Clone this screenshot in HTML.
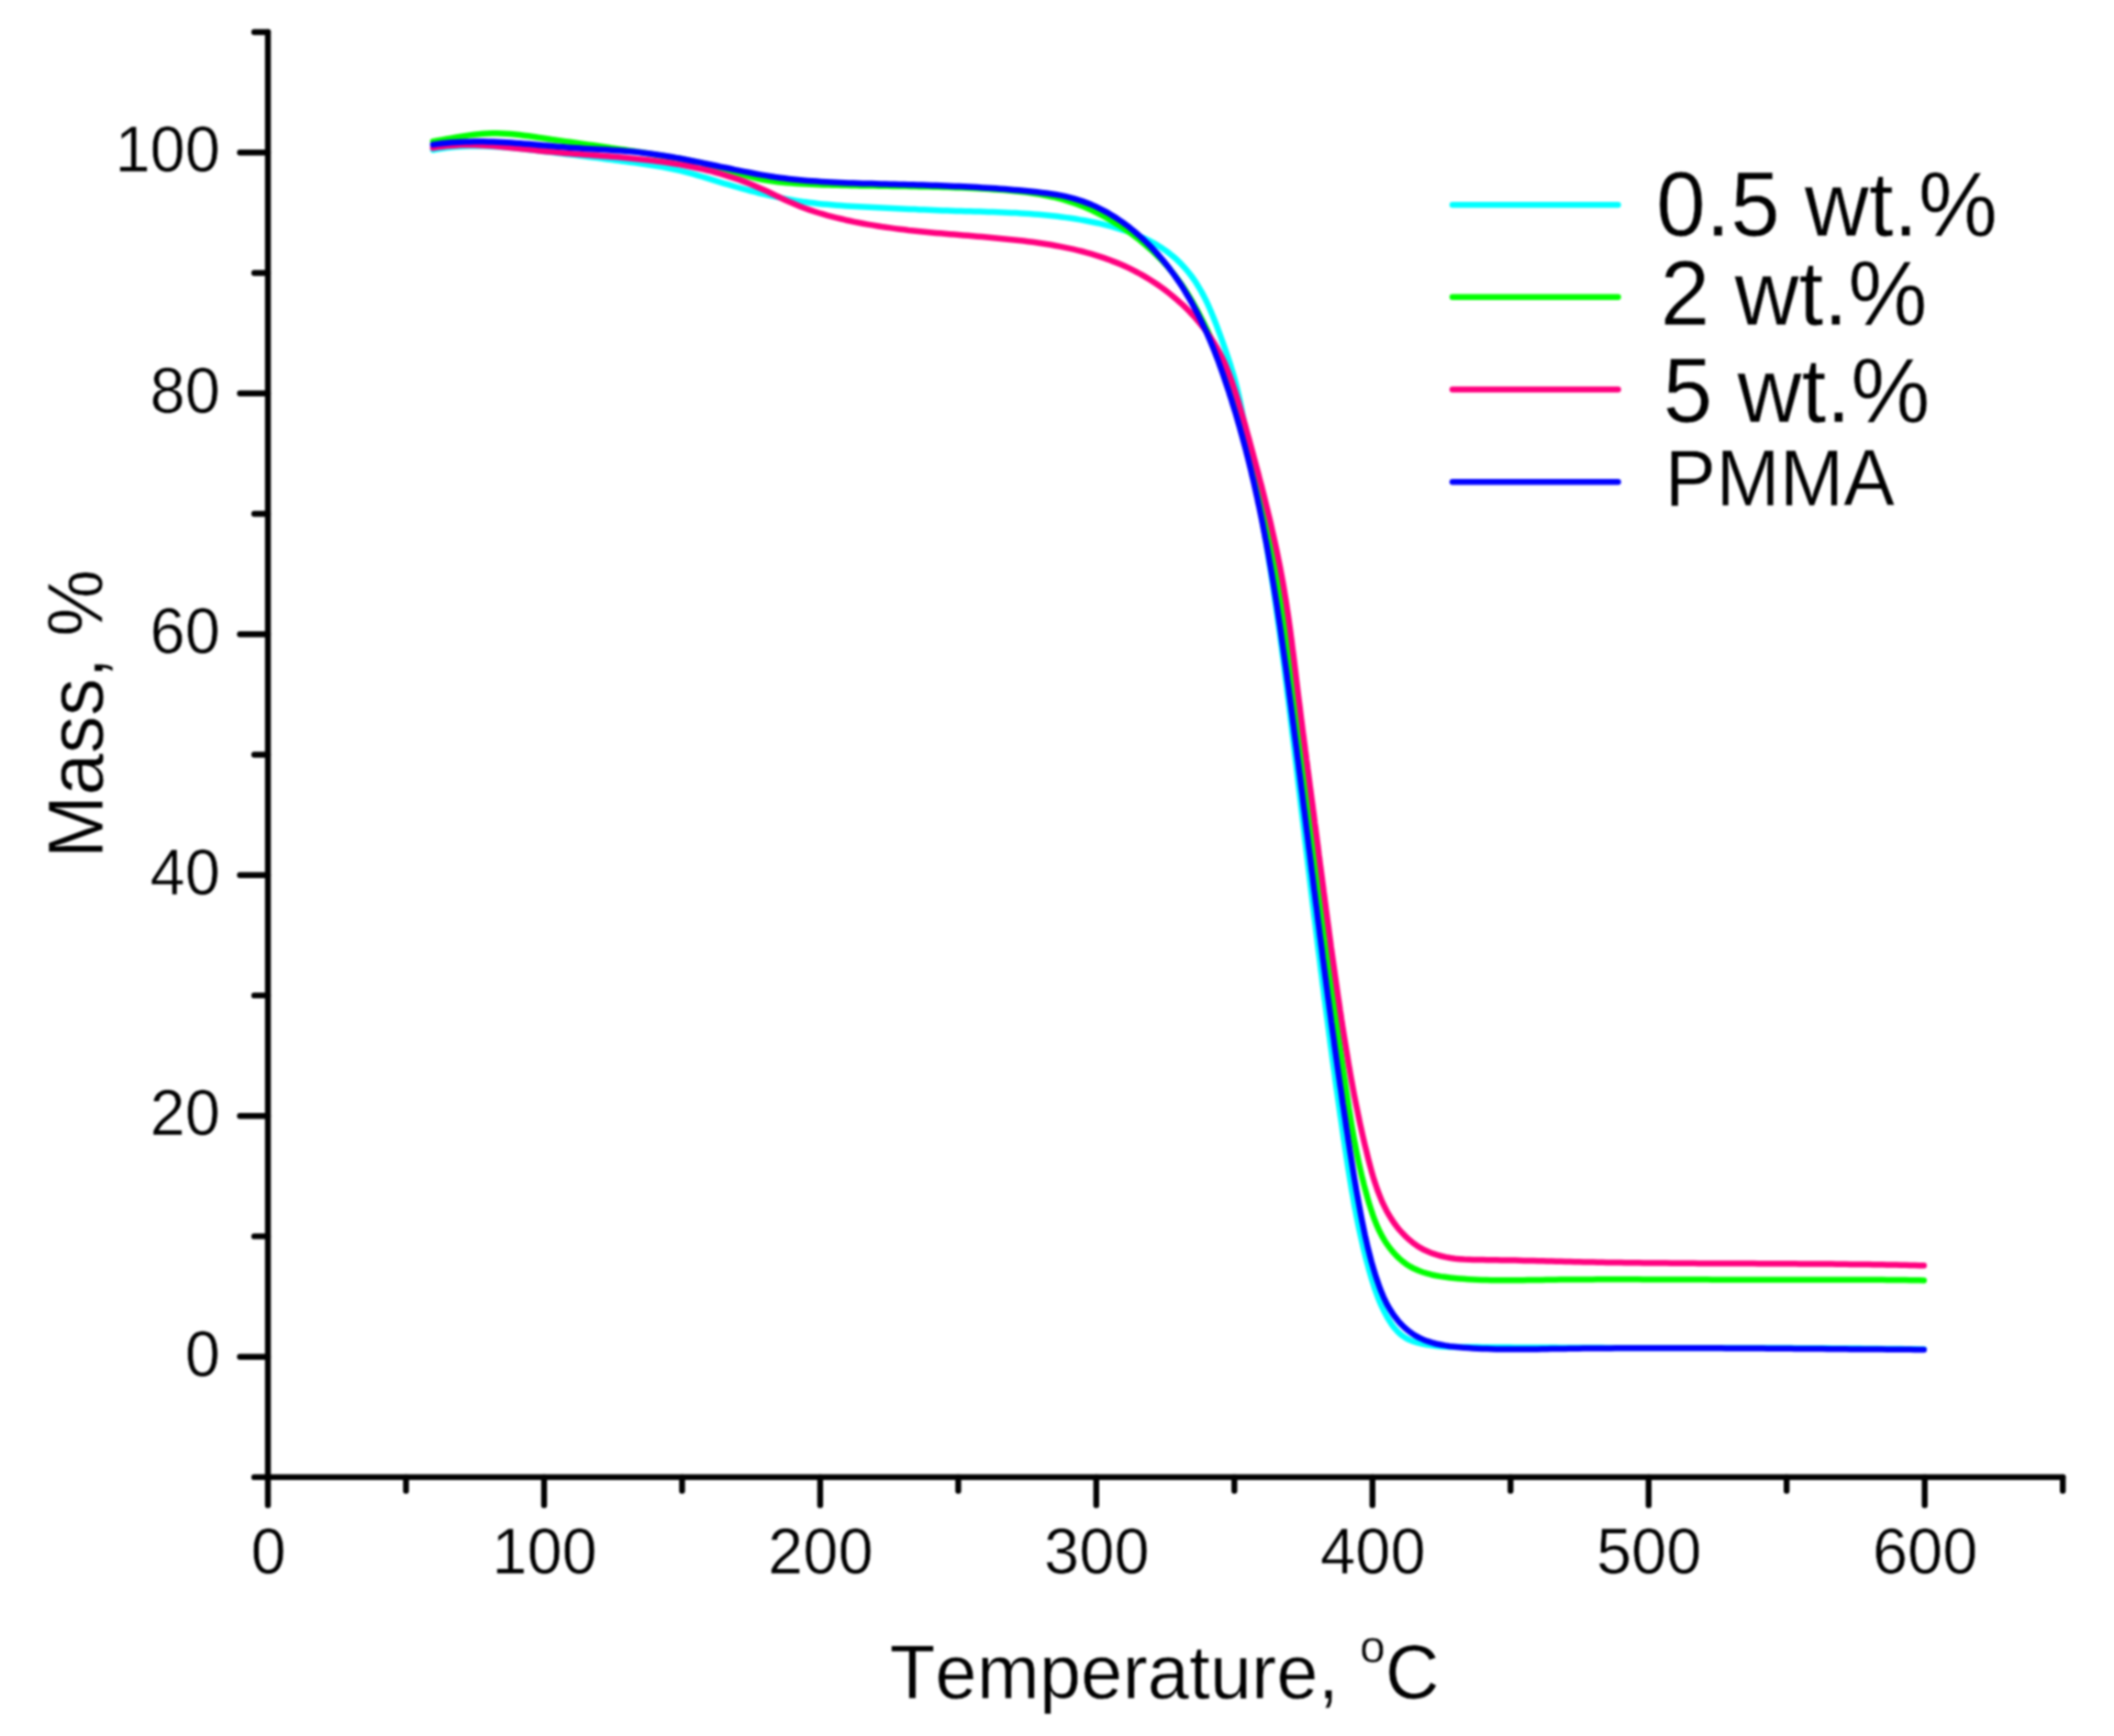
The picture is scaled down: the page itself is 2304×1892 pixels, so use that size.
<!DOCTYPE html>
<html lang="en"><head><meta charset="utf-8"><title>TGA curves</title>
<style>html,body{margin:0;padding:0;background:#fff}body{width:2304px;height:1892px;overflow:hidden}</style></head>
<body>
<svg width="2304" height="1892" viewBox="0 0 2304 1892" style="display:block;filter:blur(1.3px);font-kerning:none" font-family='"Liberation Sans", sans-serif' fill="#000">
<style>text{stroke:#fff;stroke-width:.6px}</style>
<rect width="2304" height="1892" fill="#fff"/>
<g fill="none" stroke-width="6.5" stroke-linecap="round" stroke-linejoin="round">
<path id="c05" stroke="#00ffff" d="M471.9,163.5l5,-.9l5,-.8l5,-.7l4.9,-.6l5,-.4l5,-.4l5,-.2l5,-.2l5,-.1l5,0l5,.1l5,.2l5,.2l5,.3l5,.3l5,.4l5.1,.4l5,.5l5,.5l5,.5l5,.6l4.9,.6l5,.5l5,.6l5,.6l5,.6l5,.6l5,.6l5,.6l4.9,.6l5,.6l5,.6l5,.6l4.9,.6l5,.6l5,.6l4.9,.7l5,.6l5,.6l5,.7l4.9,.7l5,.6l5,.7l4.9,.7l5,.7l5,.7l5,.8l4.9,.7l5,.8l5,.8l4.9,.9l4.9,1l4.9,1l4.9,1.1l4.9,1.2l4.8,1.3l4.8,1.3l4.8,1.4l4.8,1.4l4.8,1.4l4.8,1.5l4.8,1.5l4.8,1.4l4.8,1.5l4.8,1.4l4.9,1.4l4.8,1.4l4.9,1.4l4.8,1.3l4.9,1.3l4.8,1.2l4.9,1.3l4.9,1.2l4.9,1.1l4.9,1.1l4.9,1l4.9,1l5,1l4.9,.9l4.9,.8l5,.8l4.9,.7l5,.6l5,.6l5,.6l4.9,.5l5,.4l5,.5l5,.4l5,.3l5,.4l5,.3l5,.3l5,.2l5,.3l5.1,.3l5,.2l5,.3l5,.2l5,.2l5.1,.3l5,.2l5,.3l5,.2l5.1,.2l5,.2l5,.3l5,.2l5,.2l5.1,.2l5,.2l5,.2l5,.1l5,.2l5.1,.2l5,.1l5,.2l5,.1l5,.1l5,.2l5,.1l5,.2l5,.2l5,.2l5,.1l5,.3l5,.2l5,.2l5,.3l5,.3l5,.4l4.9,.3l5,.4l5,.4l5,.5l5,.5l4.9,.6l5,.6l5,.7l4.9,.7l5,.7l4.9,.9l5,.8l5,1l4.9,1l5,1l4.9,1.2l4.9,1.2l5,1.3l4.8,1.4l4.9,1.5l4.8,1.5l4.8,1.7l4.7,1.8l4.7,1.9l4.6,2l4.6,2.1l4.4,2.2l4.4,2.4l4.3,2.6l4.1,2.6l4.1,2.8l4,3l3.8,3.1l3.8,3.3l3.6,3.5l3.4,3.6l3.3,3.8l3.2,3.8l3.1,4l2.9,4.1l2.7,4.2l2.6,4.3l2.5,4.3l2.4,4.5l2.2,4.4l2.2,4.6l2,4.6l2,4.6l1.9,4.7l1.9,4.7l1.8,4.7l1.7,4.7l1.8,4.8l1.7,4.7l1.7,4.7l1.7,4.8l1.6,4.7l1.6,4.7l1.6,4.8l1.6,4.7l1.4,4.8l1.5,4.8l1.4,4.8l1.3,4.8l1.2,4.8l1.2,4.9l1.1,4.8l1.1,4.9l1,5l1,4.9l.9,4.9l1,4.9l.9,5l1,4.9l.9,4.9l1,5l.9,4.9l.9,4.9l1,5l.9,4.9l.9,4.9l1,5l.9,4.9l.9,4.9l.9,5l.9,4.9l.9,4.9l.9,5l.9,4.9l.9,5l.8,4.9l.9,4.9l.9,5l.8,4.9l.9,5l.8,4.9l.9,5l.8,4.9l.9,4.9l.8,5l.8,4.9l.8,5l.8,4.9l.8,5l.8,4.9l.8,5l.7,5l.8,4.9l.8,5l.7,4.9l.7,5l.8,5l.7,4.9l.7,5l.7,4.9l.7,5l.7,5l.7,4.9l.7,5l.7,5l.6,5l.7,4.9l.7,5l.6,5l.7,4.9l.6,5l.7,5l.6,5l.6,5l.7,4.9l.6,5l.6,5l.6,5l.7,4.9l.6,5l.6,5l.6,5l.6,5l.6,4.9l.6,5l.6,5l.6,5l.6,5l.6,5l.6,4.9l.6,5l.6,5l.6,5l.6,5l.6,5l.5,4.9l.6,5l.6,5l.6,5l.6,5l.6,5l.6,4.9l.6,5l.6,5l.6,5l.6,5l.6,5l.6,4.9l.5,5l.6,5l.6,5l.6,5l.6,5l.6,4.9l.6,5l.6,5l.6,5l.6,5l.6,4.9l.6,5l.6,5l.6,5l.6,5l.6,5l.6,4.9l.6,5l.7,5l.6,5l.6,5l.6,4.9l.6,5l.6,5l.6,5l.6,5l.7,4.9l.6,5l.6,5l.6,5l.7,4.9l.6,5l.6,5l.7,5l.6,5l.6,4.9l.7,5l.6,5l.7,5l.6,4.9l.7,5l.6,5l.7,5l.6,4.9l.7,5l.6,5l.7,4.9l.7,5l.6,5l.7,5l.7,4.9l.7,5l.7,5l.6,4.9l.7,5l.7,5l.7,4.9l.7,5l.7,5l.7,4.9l.7,5l.7,5l.8,4.9l.7,5l.7,5l.7,4.9l.7,5l.8,4.9l.7,5l.8,5l.7,4.9l.8,5l.7,4.9l.8,5l.8,4.9l.8,5l.8,4.9l.8,5l.9,4.9l.9,4.9l.8,5l.9,4.9l1,4.9l.9,5l1,4.9l1,4.9l1,4.9l1.1,4.9l1.1,4.9l1.1,4.9l1.1,4.9l1.2,4.9l1.2,4.9l1.3,4.8l1.3,4.9l1.3,4.8l1.4,4.9l1.4,4.8l1.5,4.8l1.5,4.8l1.7,4.8l1.7,4.7l1.8,4.7l2,4.6l2.1,4.6l2.3,4.5l2.4,4.5l2.6,4.3l2.7,4.2l3.1,3.9l3.3,3.7l3.6,3.3l4,2.8l4.3,2.4l4.7,1.9l4.8,1.4l5,1.2l5,1l5,.7l5,.6l5,.5l5,.3l5,.2l5,.1l5.1,.1l5,0l5,0l5,0l5.1,0l5,.1l5,0l5,0l5,0l5.1,.1l5,0l5,0l5,.1l5,0l5,0l5.1,.1l5,0l5,0l5,.1l5,0l5,0l5,0l5.1,.1l5,0l5,0l5,0l5,.1l5,0l5,0l5.1,0l5,0l5,0l5,.1l5,0l5,0l5,0l5.1,0l5,0l5,0l5,0l5,0l5,0l5.1,0l5,0l5,0l5,.1l5,0l5,0l5.1,0l5,0l5,0l5,0l5,0l5.1,0l5,0l5,0l5,0l5,0l5.1,0l5,0l5,0l5,0l5,0l5,0l5.1,0l5,0l5,.1l5,0l5,0l5.1,0l5,0l5,0l5,0l5,.1l5,0l5.1,0l5,0l5,0l5,.1l5,0l5.1,0l5,.1l5,0l5,0l5,.1l5,0l5.1,.1l5,0l5,.1l5,0l5,.1l5,0l5.1,.1l5,0l5,.1l5,0l5,.1l5,.1l5.1,.1l5,0l5,.1l5,.1"/>
<path id="c2" stroke="#00ff00" d="M471.9,154.1l4.9,-.8l4.9,-.9l4.9,-.9l5,-.9l4.9,-.8l5,-.9l5,-.8l5,-.7l5.1,-.6l5,-.6l5,-.4l5,-.3l5.1,-.2l5,0l5,.1l4.9,.3l5,.4l5,.4l5,.6l4.9,.6l5,.6l5,.7l4.9,.8l5,.7l5,.7l4.9,.8l5,.7l5,.7l4.9,.7l5,.7l5,.7l4.9,.7l5,.7l5,.7l5,.7l4.9,.7l5,.7l5,.7l4.9,.8l5,.7l5,.7l4.9,.7l5,.8l4.9,.7l5,.8l5,.7l4.9,.8l5,.8l4.9,.8l5,.8l4.9,.8l5,.8l4.9,.9l5,.8l4.9,.9l4.9,.9l5,1l4.9,1l4.9,1.1l4.9,1.1l4.8,1.2l4.9,1.2l4.8,1.4l4.8,1.4l4.8,1.5l4.8,1.5l4.8,1.4l4.8,1.5l4.8,1.4l4.9,1.3l4.8,1.3l4.9,1.1l4.9,1l4.9,.8l5,.8l4.9,.6l5,.6l5,.4l5,.4l5.1,.4l5,.3l5,.2l5,.3l5.1,.2l5,.2l5,.2l5.1,.1l5,.2l5,.1l5,.2l5,.1l5.1,.1l5,.1l5,.1l5,.1l5,0l5,.1l5,.1l5,.1l5,0l5.1,.1l5,.1l5,0l5,.1l5,.1l5,.1l5,.1l5,.1l5,.1l5,.1l5.1,.1l5,.1l5,.2l5,.1l5,.2l5,.2l5,.2l5.1,.2l5,.2l5,.3l5,.2l5,.3l5.1,.4l5,.3l5,.4l5.1,.4l5,.4l5,.5l5,.6l5,.6l5,.6l4.9,.8l5,.8l4.9,.9l4.9,1l4.9,1l4.8,1.2l4.9,1.3l4.8,1.4l4.7,1.5l4.7,1.6l4.7,1.7l4.7,1.9l4.6,2l4.6,2l4.5,2.2l4.5,2.3l4.4,2.4l4.4,2.5l4.4,2.5l4.3,2.7l4.3,2.7l4.2,2.8l4.1,2.8l4.1,3l4,3l4,3.1l3.9,3.2l3.9,3.2l3.7,3.3l3.8,3.4l3.6,3.5l3.5,3.5l3.5,3.6l3.4,3.7l3.3,3.8l3.2,3.8l3.1,3.9l3,4l3,4.1l2.8,4.1l2.8,4.2l2.6,4.2l2.6,4.4l2.6,4.3l2.4,4.4l2.5,4.4l2.3,4.4l2.3,4.5l2.3,4.5l2.2,4.5l2.2,4.5l2.1,4.6l2,4.5l2.1,4.6l2,4.6l1.9,4.6l1.9,4.7l1.9,4.6l1.8,4.7l1.8,4.7l1.7,4.7l1.8,4.7l1.6,4.7l1.7,4.8l1.6,4.7l1.6,4.8l1.6,4.8l1.5,4.8l1.5,4.7l1.5,4.8l1.5,4.9l1.4,4.8l1.4,4.8l1.4,4.8l1.4,4.8l1.3,4.9l1.4,4.8l1.3,4.9l1.3,4.8l1.2,4.9l1.3,4.8l1.2,4.9l1.2,4.9l1.2,4.8l1.2,4.9l1.2,4.9l1.1,4.9l1.1,4.9l1.1,4.9l1.1,4.9l1.1,4.9l1.1,4.9l1,4.9l1.1,4.9l1,4.9l1,4.9l1,4.9l1,4.9l.9,4.9l1,5l.9,4.9l.9,4.9l1,4.9l.9,5l.8,4.9l.9,4.9l.9,5l.8,4.9l.9,5l.8,4.9l.8,5l.8,4.9l.8,5l.8,4.9l.8,5l.8,4.9l.7,5l.8,4.9l.7,5l.8,5l.7,4.9l.7,5l.7,5l.7,4.9l.7,5l.7,5l.7,4.9l.7,5l.6,5l.7,5l.7,4.9l.6,5l.7,5l.6,5l.7,5l.6,4.9l.6,5l.6,5l.7,5l.6,5l.6,5l.6,4.9l.6,5l.6,5l.6,5l.6,5l.6,5l.6,5l.6,5l.6,4.9l.6,5l.6,5l.6,5l.6,5l.6,5l.6,5l.6,4.9l.6,5l.6,5l.6,5l.6,5l.6,5l.6,4.9l.6,5l.6,5l.6,5l.7,5l.6,5l.6,4.9l.6,5l.7,5l.6,5l.6,4.9l.7,5l.6,5l.7,5l.6,4.9l.7,5l.6,5l.7,4.9l.7,5l.6,5l.7,4.9l.7,5l.7,5l.6,5l.7,4.9l.7,5l.7,5l.7,4.9l.7,5l.6,5l.7,4.9l.7,5l.7,4.9l.7,5l.7,5l.7,4.9l.7,5l.7,5l.8,4.9l.7,5l.7,5l.7,4.9l.7,5l.7,5l.7,4.9l.8,5l.7,5l.7,5l.7,4.9l.7,5l.8,5l.7,4.9l.7,5l.7,5l.8,5l.7,4.9l.7,5l.8,5l.7,4.9l.8,5l.7,5l.8,4.9l.8,5l.8,5l.8,4.9l.9,5l.8,4.9l.9,4.9l1,5l.9,4.9l1,4.9l1,4.9l1,4.9l1.1,4.9l1.1,4.9l1.1,4.9l1.2,4.8l1.2,4.9l1.3,4.8l1.3,4.9l1.3,4.8l1.4,4.8l1.5,4.8l1.5,4.7l1.6,4.8l1.7,4.7l1.8,4.6l2,4.6l2.2,4.6l2.3,4.4l2.6,4.4l2.8,4.3l3,4.1l3.2,4l3.5,3.8l3.6,3.5l3.8,3.3l4,3l4.2,2.6l4.4,2.3l4.5,2l4.6,1.7l4.7,1.4l4.8,1.3l4.9,1l5,.9l5,.7l5,.6l5,.5l5,.5l5.1,.4l5,.4l5,.3l5,.2l5.1,.2l5,.1l5,.2l5,0l5,.1l5,0l5.1,0l5,0l5,-.1l5,0l5,-.1l5,-.1l5,0l5.1,-.1l5,-.1l5,-.1l5,0l5,-.1l5,0l5,-.1l5,0l5.1,-.1l5,0l5,0l5,0l5,-.1l5,0l5.1,0l5,0l5,0l5,0l5,0l5.1,0l5,0l5,0l5,.1l5,0l5,0l5.1,0l5,0l5,0l5,.1l5,0l5.1,0l5,0l5,.1l5,0l5,0l5.1,0l5,0l5,.1l5,0l5,0l5.1,0l5,0l5,0l5,.1l5,0l5.1,0l5,0l5,0l5,0l5,0l5.1,0l5,-.1l5,0l5,0l5,0l5,0l5.1,0l5,0l5,0l5,0l5,0l5,0l5.1,0l5,0l5,0l5,0l5,0l5,0l5.1,0l5,0l5,0l5,.1l5,0l5,0l5.1,0l5,.1l5,0l5,.1l5,0l5,.1l5.1,.1l5,0l5,.1l5,.1"/>
<path id="c5" stroke="#ff007f" d="M471.9,161.2l5,-.8l5.1,-.7l5,-.6l5,-.4l5,-.3l5,-.3l5,-.1l5,0l5,.1l5,.1l5,.2l4.9,.3l5,.4l5,.4l5,.4l5,.5l4.9,.5l5,.5l5,.6l5,.5l5,.6l4.9,.5l5,.6l5,.5l5,.5l5,.4l5,.5l5,.4l5,.4l5,.4l5,.4l5,.4l5,.4l5,.3l5,.4l5,.4l5,.4l5,.3l5,.4l5,.4l5,.4l5,.5l5,.4l5,.5l5,.5l5,.5l4.9,.6l5,.6l5,.6l4.9,.6l5,.7l4.9,.8l5,.8l4.9,.8l4.9,.9l5,.9l4.9,1l4.9,1.1l4.9,1.1l4.8,1.1l4.9,1.2l4.8,1.3l4.8,1.4l4.8,1.4l4.8,1.5l4.8,1.5l4.7,1.6l4.7,1.7l4.7,1.8l4.6,1.8l4.6,2l4.6,2l4.6,2l4.5,2.1l4.5,2.2l4.5,2.2l4.6,2.1l4.5,2.2l4.6,2.1l4.6,2l4.6,1.9l4.7,1.9l4.7,1.8l4.7,1.7l4.8,1.6l4.8,1.5l4.9,1.4l4.8,1.4l4.9,1.3l4.9,1.2l4.9,1.2l4.8,1.2l4.9,1l4.9,1.1l4.9,1l5,.9l4.9,.9l4.9,.8l4.9,.8l4.9,.8l5,.7l4.9,.7l5,.7l4.9,.6l5,.6l4.9,.6l5,.5l4.9,.5l5,.5l5,.5l5,.5l4.9,.5l5,.4l5,.4l5,.5l5,.4l5,.4l5,.4l5,.4l5,.4l5,.5l5,.4l5,.4l5.1,.5l5,.4l5,.5l5,.5l5,.5l5.1,.5l5,.6l5,.5l5,.7l5,.6l5,.7l4.9,.7l5,.8l5,.8l4.9,.9l4.9,.9l4.9,1l4.9,1l4.9,1.1l4.9,1.1l4.8,1.2l4.8,1.3l4.8,1.4l4.7,1.4l4.8,1.5l4.7,1.6l4.7,1.6l4.6,1.8l4.6,1.8l4.6,1.9l4.5,2l4.6,2.1l4.4,2.3l4.5,2.3l4.4,2.4l4.3,2.5l4.3,2.6l4.3,2.7l4.2,2.8l4.1,2.9l4.1,3l4,3.1l4,3.2l3.8,3.2l3.8,3.4l3.8,3.4l3.6,3.5l3.6,3.6l3.4,3.6l3.4,3.8l3.3,3.8l3.2,3.9l3.1,3.9l2.9,4l2.9,4.1l2.7,4.1l2.7,4.3l2.5,4.2l2.4,4.4l2.3,4.4l2.2,4.4l2.1,4.6l1.9,4.6l1.8,4.6l1.8,4.7l1.7,4.7l1.6,4.8l1.6,4.8l1.5,4.7l1.5,4.8l1.5,4.8l1.4,4.8l1.4,4.8l1.4,4.9l1.4,4.8l1.4,4.8l1.3,4.9l1.3,4.8l1.4,4.8l1.3,4.9l1.3,4.8l1.3,4.8l1.3,4.9l1.3,4.8l1.3,4.9l1.3,4.8l1.3,4.9l1.2,4.8l1.3,4.9l1.3,4.8l1.2,4.9l1.2,4.8l1.2,4.9l1.2,4.9l1.2,4.8l1.2,4.9l1.2,4.9l1.1,4.8l1.1,4.9l1.1,4.9l1.1,4.9l1.1,4.9l1.1,4.9l1,4.9l1,4.9l1,4.9l1,4.9l1,4.9l.9,4.9l.9,4.9l.9,5l.9,4.9l.8,4.9l.8,5l.8,4.9l.8,5l.7,4.9l.8,5l.7,4.9l.7,5l.7,5l.7,5l.6,4.9l.7,5l.6,5l.6,5l.7,4.9l.6,5l.6,5l.6,5l.6,5l.6,4.9l.6,5l.6,5l.6,5l.6,5l.6,4.9l.7,5l.6,5l.6,4.9l.6,5l.7,5l.6,4.9l.6,5l.7,5l.6,4.9l.7,5l.6,5l.7,4.9l.6,5l.7,4.9l.6,5l.7,4.9l.6,5l.7,5l.6,4.9l.7,5l.6,5l.7,4.9l.7,5l.6,4.9l.7,5l.6,5l.6,5l.7,4.9l.6,5l.7,5l.6,4.9l.7,5l.6,5l.6,5l.7,4.9l.6,5l.7,5l.6,5l.7,4.9l.6,5l.7,5l.6,5l.7,4.9l.6,5l.7,5l.6,5l.7,5l.6,4.9l.7,5l.7,5l.6,4.9l.7,5l.7,5l.6,5l.7,4.9l.7,5l.7,5l.7,4.9l.7,5l.7,4.9l.7,5l.7,5l.7,4.9l.7,5l.7,4.9l.8,5l.7,4.9l.7,5l.8,4.9l.7,5l.8,4.9l.7,5l.8,4.9l.8,4.9l.8,5l.8,4.9l.8,4.9l.8,4.9l.8,5l.8,4.9l.9,4.9l.8,4.9l.9,5l.9,4.9l.9,4.9l.9,4.9l.9,4.9l1,4.9l1,5l1,4.9l1,4.9l1,4.9l1,4.9l1.1,4.9l1.1,4.9l1.1,4.9l1.1,4.9l1.2,4.9l1.2,4.9l1.2,5l1.2,4.9l1.3,4.9l1.3,4.9l1.3,4.8l1.4,4.9l1.5,4.8l1.6,4.8l1.6,4.7l1.8,4.7l1.9,4.7l1.9,4.5l2.2,4.5l2.2,4.4l2.5,4.3l2.6,4.3l2.7,4.1l3,4l3.1,3.9l3.4,3.7l3.5,3.6l3.7,3.4l3.9,3.2l4,2.9l4.3,2.7l4.3,2.4l4.5,2l4.7,1.9l4.7,1.5l4.8,1.3l4.9,1.1l4.9,.9l4.9,.7l5,.5l5,.4l5.1,.2l5,.2l5.1,.1l5,0l5.1,.1l5,0l5.1,.1l5,.1l5.1,.1l5,.1l5,0l5,.2l5,.1l5.1,.1l5,.1l5,.1l5,.1l5,.1l5,.2l4.9,.1l5,.1l5,.1l5,.1l5,.2l5,.1l5,.1l5,.1l5,.1l5,.1l5,.1l5,.1l5,0l5,.1l5,.1l5,.1l5,0l5,.1l5,0l5,.1l5,0l5,.1l5,0l5,.1l5,0l5,.1l5,0l5,0l5,.1l5,0l5.1,0l5,.1l5,0l5,0l5,0l5,.1l5,0l5,0l5.1,0l5,0l5,.1l5,0l5,0l5,0l5,.1l5.1,0l5,0l5,0l5,0l5,.1l5,0l5,0l5.1,0l5,.1l5,0l5,0l5,.1l5,0l5,.1l5.1,0l5,0l5,.1l5,0l5,.1l5,.1l5,0l5,.1l5,0l5,.1l5.1,.1l5,.1l5,0l5,.1l5,.1l5,.1l5,.1l5,.1l5,.1l5,.2l5,.1l5,.1"/>
<path id="pmma" stroke="#0000ff" d="M471.9,157.6l5,-.7l5,-.6l5.1,-.5l5,-.5l5,-.3l5,-.3l5,-.2l5,-.1l5,-.1l5,0l5,0l5,.1l5,.2l5,.2l5,.2l5,.3l5,.3l5,.4l5,.3l5,.4l5,.4l5,.4l5,.5l5,.4l5,.4l5,.5l5,.4l5,.4l5,.4l5,.4l5,.3l5,.4l5.1,.3l5,.3l5,.3l5,.3l5,.2l5,.3l5,.4l5,.3l5,.3l5,.4l5,.4l5,.5l5,.5l5,.6l4.9,.6l5,.6l5,.8l4.9,.7l4.9,.8l5,.8l4.9,.9l4.9,.9l5,.9l4.9,1l4.9,1l4.9,.9l4.9,1.1l5,1l4.9,1l4.9,1l4.9,1.1l4.9,1l4.9,1l4.9,1.1l5,1l4.9,1l4.9,.9l4.9,1l4.9,.9l5,.9l4.9,.8l5,.8l4.9,.8l5,.7l4.9,.6l5,.6l5,.6l5,.5l5,.4l5,.5l5,.4l5,.3l5,.4l5,.3l5,.2l5,.3l5,.2l5.1,.2l5,.2l5,.2l5,.1l5.1,.2l5,.1l5,.1l5,.2l5.1,.1l5,.1l5,.2l5,.1l5,.1l5.1,.2l5,.1l5,.1l5,.2l5,.1l5,.2l5,.1l5,.2l5,.2l5,.2l5,.2l5,.2l5,.2l5,.2l5,.2l5,.3l5,.3l5,.3l5,.3l5,.3l4.9,.3l5,.4l5,.3l5,.4l5,.5l5,.4l5,.5l5,.4l5.1,.6l5,.5l5.1,.6l5.1,.6l5,.7l5.1,.8l5,.9l4.9,1l5,1.2l4.8,1.2l4.8,1.5l4.8,1.6l4.6,1.7l4.7,1.8l4.5,2l4.5,2.2l4.4,2.2l4.3,2.4l4.3,2.5l4.2,2.6l4.2,2.8l4.1,2.8l4,2.9l4,3.1l3.8,3.1l3.8,3.3l3.8,3.3l3.7,3.4l3.6,3.5l3.5,3.6l3.5,3.7l3.4,3.7l3.3,3.8l3.3,3.8l3.2,4l3.1,3.9l3,4.1l3,4l2.9,4.2l2.8,4.1l2.8,4.2l2.6,4.3l2.6,4.3l2.6,4.3l2.5,4.3l2.4,4.4l2.4,4.5l2.3,4.4l2.2,4.5l2.2,4.5l2.1,4.5l2.1,4.6l2.1,4.6l2,4.6l1.9,4.6l1.9,4.6l1.9,4.7l1.8,4.7l1.8,4.7l1.7,4.7l1.7,4.7l1.7,4.8l1.6,4.7l1.6,4.8l1.6,4.8l1.6,4.7l1.5,4.8l1.6,4.8l1.4,4.8l1.5,4.8l1.5,4.8l1.4,4.8l1.4,4.8l1.4,4.8l1.3,4.8l1.4,4.9l1.3,4.8l1.3,4.9l1.3,4.8l1.2,4.8l1.3,4.9l1.2,4.9l1.2,4.8l1.2,4.9l1.1,4.9l1.2,4.8l1.1,4.9l1.1,4.9l1.1,4.9l1.1,4.9l1,4.9l1.1,4.9l1,4.9l1,4.9l1,4.9l1,4.9l.9,4.9l1,4.9l.9,5l1,4.9l.9,4.9l.9,5l.9,4.9l.8,4.9l.9,5l.8,4.9l.9,5l.8,4.9l.8,4.9l.8,5l.8,5l.8,4.9l.8,5l.8,4.9l.7,5l.8,5l.7,4.9l.8,5l.7,5l.7,4.9l.7,5l.7,5l.7,4.9l.7,5l.7,5l.7,5l.7,4.9l.7,5l.7,5l.6,5l.7,4.9l.7,5l.6,5l.7,5l.6,4.9l.7,5l.6,5l.7,5l.6,5l.7,4.9l.6,5l.6,5l.7,5l.6,4.9l.7,5l.6,5l.6,5l.7,5l.6,4.9l.6,5l.7,5l.6,5l.6,4.9l.6,5l.7,5l.6,5l.6,4.9l.6,5l.7,5l.6,5l.6,4.9l.6,5l.6,5l.7,5l.6,5l.6,4.9l.6,5l.7,5l.6,5l.6,4.9l.6,5l.6,5l.7,4.9l.6,5l.6,5l.6,5l.7,4.9l.6,5l.6,5l.7,5l.6,4.9l.6,5l.6,5l.7,5l.6,4.9l.6,5l.7,5l.6,4.9l.7,5l.6,5l.6,5l.7,4.9l.6,5l.7,5l.6,4.9l.7,5l.6,5l.7,5l.6,4.9l.7,5l.7,5l.6,4.9l.7,5l.7,5l.6,5l.7,4.9l.7,5l.7,5l.7,4.9l.6,5l.7,5l.7,4.9l.7,5l.7,5l.7,4.9l.7,5l.7,5l.7,4.9l.7,5l.8,5l.7,4.9l.7,5l.7,5l.8,4.9l.7,5l.8,5l.7,4.9l.7,5l.8,5l.8,4.9l.7,5l.8,5l.7,4.9l.8,5l.8,5l.8,4.9l.8,5l.8,4.9l.8,5l.8,4.9l.9,5l.8,4.9l.9,4.9l.9,5l.9,4.9l.9,4.9l.9,4.9l.9,4.9l1,4.9l1,4.8l1,4.9l1,4.9l1.1,4.8l1.1,4.9l1.1,4.8l1.3,4.9l1.2,4.8l1.3,4.9l1.4,4.8l1.4,4.8l1.5,4.9l1.6,4.8l1.7,4.9l1.7,4.8l1.9,4.8l2,4.7l2.2,4.6l2.3,4.5l2.6,4.4l2.7,4.2l2.9,4.1l3.1,4l3.4,3.7l3.5,3.5l3.8,3.2l3.9,2.9l4.1,2.7l4.2,2.3l4.4,2l4.6,1.8l4.6,1.5l4.8,1.3l4.9,1l4.9,.9l5,.8l5.1,.6l5,.5l5.1,.4l5.1,.4l5.1,.3l5.1,.3l5,.2l5.1,.2l5,.2l5.1,.1l5,.1l5,0l5,.1l5.1,0l5,0l5,-.1l5,0l5,-.1l5,0l5,-.1l5,-.1l5,-.1l5,0l5,-.1l5,-.1l5,-.1l5,0l5,-.1l5,-.1l5,0l5,-.1l5,0l5,-.1l5,0l5,0l5,-.1l5,0l5,0l5,-.1l5,0l5,0l5.1,0l5,0l5,0l5,0l5,0l5,0l5.1,0l5,0l5,0l5,0l5,0l5,0l5.1,0l5,0l5,.1l5,0l5,0l5.1,0l5,.1l5,0l5,0l5.1,0l5,.1l5,0l5,0l5,.1l5.1,0l5,.1l5,0l5,0l5,.1l5.1,0l5,0l5,.1l5,0l5.1,.1l5,0l5,.1l5,0l5,0l5.1,.1l5,0l5,.1l5,0l5,0l5,.1l5.1,0l5,.1l5,0l5,0l5,.1l5,0l5,0l5,.1l5.1,0l5,0l5,.1l5,0l5,0l5,.1l5,0l5,0"/>
</g>
<g fill="none" stroke="#000" stroke-width="6.4" stroke-linecap="round" stroke-linejoin="round">
<path d="M292.0,35.0V1609.9"/>
<path d="M292.0,1609.9H2248.2"/>
<path d="M292.0,1609.9h-14.9M292.0,1478.7h-30.5M292.0,1347.4h-14.9M292.0,1216.2h-30.5M292.0,1084.9h-14.9M292.0,953.7h-30.5M292.0,822.5h-14.9M292.0,691.2h-30.5M292.0,560.0h-14.9M292.0,428.7h-30.5M292.0,297.5h-14.9M292.0,166.3h-30.5M292.0,35.0h-14.9M292.0,1609.9v30.5M442.5,1609.9v14.9M593.0,1609.9v30.5M743.4,1609.9v14.9M893.9,1609.9v30.5M1044.4,1609.9v14.9M1194.8,1609.9v30.5M1345.3,1609.9v14.9M1495.8,1609.9v30.5M1646.3,1609.9v14.9M1796.8,1609.9v30.5M1947.2,1609.9v14.9M2097.7,1609.9v30.5M2248.2,1609.9v14.9"/>
</g>
<text transform="translate(240.0,1499.7) scale(1,1.027)" font-size="68.7px" text-anchor="end">0</text>
<text transform="translate(240.0,1237.2) scale(1,1.027)" font-size="68.7px" text-anchor="end">20</text>
<text transform="translate(240.0,974.7) scale(1,1.027)" font-size="68.7px" text-anchor="end">40</text>
<text transform="translate(240.0,712.2) scale(1,1.027)" font-size="68.7px" text-anchor="end">60</text>
<text transform="translate(240.0,449.7) scale(1,1.027)" font-size="68.7px" text-anchor="end">80</text>
<text transform="translate(240.0,187.3) scale(1,1.027)" font-size="68.7px" text-anchor="end">100</text>
<text transform="translate(292.5,1715.3) scale(1,1.027)" font-size="68.7px" text-anchor="middle">0</text>
<text transform="translate(593.5,1715.3) scale(1,1.027)" font-size="68.7px" text-anchor="middle">100</text>
<text transform="translate(894.4,1715.3) scale(1,1.027)" font-size="68.7px" text-anchor="middle">200</text>
<text transform="translate(1195.3,1715.3) scale(1,1.027)" font-size="68.7px" text-anchor="middle">300</text>
<text transform="translate(1496.3,1715.3) scale(1,1.027)" font-size="68.7px" text-anchor="middle">400</text>
<text transform="translate(1797.2,1715.3) scale(1,1.027)" font-size="68.7px" text-anchor="middle">500</text>
<text transform="translate(2098.2,1715.3) scale(1,1.027)" font-size="68.7px" text-anchor="middle">600</text>
<text transform="translate(969.5,1850.7) scale(1,1.012)" font-size="81.6px" xml:space="preserve" style="white-space:pre">Temperature, <tspan font-size="50px" dy="-38">o</tspan><tspan dy="38">C</tspan></text>
<text transform="translate(112.1,778) rotate(-90) scale(1,1.03)" font-size="82px" text-anchor="middle">Mass, %</text>
<g fill="none" stroke-width="6.5" stroke-linecap="round">
<path stroke="#00ffff" d="M1583,223.2H1763.5"/>
<path stroke="#00ff00" d="M1583,323.7H1763.5"/>
<path stroke="#ff007f" d="M1583,424.4H1763.5"/>
<path stroke="#0000ff" d="M1583,525.3H1763.5"/>
</g>
<text transform="translate(1805.0,257.4) scale(1,1.03)" font-size="97px" text-anchor="start">0.5 wt.%</text>
<text transform="translate(1809.5,353.5) scale(1,1.03)" font-size="97px" text-anchor="start">2 wt.%</text>
<text transform="translate(1812.5,460.2) scale(1,1.03)" font-size="97px" text-anchor="start">5 wt.%</text>
<text transform="translate(1814.5,550.6) scale(1,1.038)" font-size="83.5px" text-anchor="start">PMMA</text>
</svg>
</body></html>
